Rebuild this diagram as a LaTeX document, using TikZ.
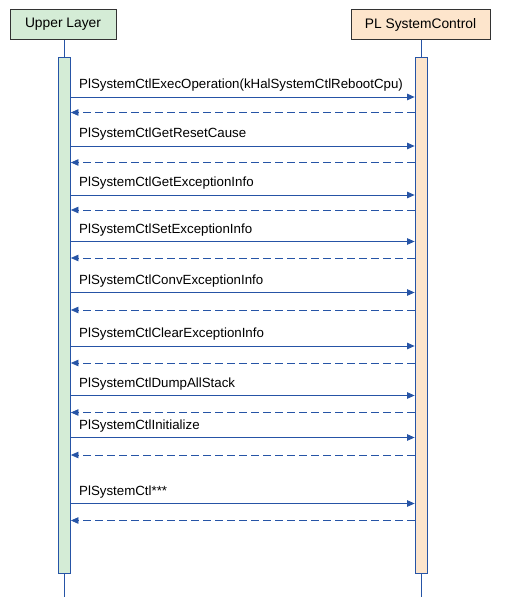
\documentclass[tikz,border=0pt]{standalone}
\usepackage{fontspec}
\setmainfont{Liberation Sans}
\usetikzlibrary{arrows.meta}
\definecolor{lineblue}{RGB}{38,84,166}
\definecolor{greenfill}{RGB}{212,236,214}
\definecolor{orangefill}{RGB}{253,229,204}
\begin{document}
\begin{tikzpicture}[x=1pt,y=-1pt,
  header/.style={draw=black!80,line width=0.8pt,inner sep=0pt,font=\fontsize{13.8}{16}\selectfont},
  actbar/.style={draw=lineblue,line width=0.8pt,inner sep=0pt,minimum width=12pt},
  lifeline/.style={draw=lineblue,line width=0.8pt},
  callmsg/.style={draw=lineblue,line width=0.8pt,-{Triangle[length=7.5pt,width=6.5pt]}},
  retmsg/.style={draw=lineblue,line width=0.8pt,dash pattern=on 8pt off 4pt,-{Triangle[length=7.5pt,width=6.5pt]}},
  msglabel/.style={anchor=base west,inner sep=0pt,font=\fontsize{13.3}{15}\selectfont}]
\useasboundingbox (0,0) rectangle (512,604);
% headers
\node[header,fill=greenfill,minimum width=106pt,minimum height=30pt] (ul) at (63,24.5) {Upper Layer};
\node[header,fill=orangefill,minimum width=139pt,minimum height=30pt] (pl) at (420.5,24.5) {PL SystemControl};
% lifeline ends
\coordinate (ulend) at (64.5,597);
\coordinate (plend) at (421,597);
\draw[lifeline] (ul.south -| ulend) -- (ulend);
\draw[lifeline] (pl.south -| plend) -- (plend);
% activation bars
\node[actbar,fill=greenfill,minimum height=516pt] (ulact) at (64.5,315.5) {};
\node[actbar,fill=orangefill,minimum height=516pt] (plact) at (421,315.5) {};
% messages
\foreach \i/\yc/\yr/\txt in {
  1/97/112.5/{PlSystemCtlExecOperation(kHalSystemCtlRebootCpu)},
  2/146/162.5/{PlSystemCtlGetResetCause},
  3/195/210/{PlSystemCtlGetExceptionInfo},
  4/241.5/258/{PlSystemCtlSetExceptionInfo},
  5/292.5/310/{PlSystemCtlConvExceptionInfo},
  6/346/363/{PlSystemCtlClearExceptionInfo},
  7/395.5/412.5/{PlSystemCtlDumpAllStack},
  8/437.5/455/{PlSystemCtlInitialize},
  9/503.5/520.5/{PlSystemCtl***}}{
  \coordinate (c\i) at (0,\yc);
  \coordinate (r\i) at (0,\yr);
  \draw[callmsg] (ulact.east |- c\i) -- (plact.west |- c\i);
  \draw[retmsg] (plact.west |- r\i) -- (ulact.east |- r\i);
  \node[msglabel] (t\i) at (79,\yc-8.3) {\txt};
}
\end{tikzpicture}
\end{document}
